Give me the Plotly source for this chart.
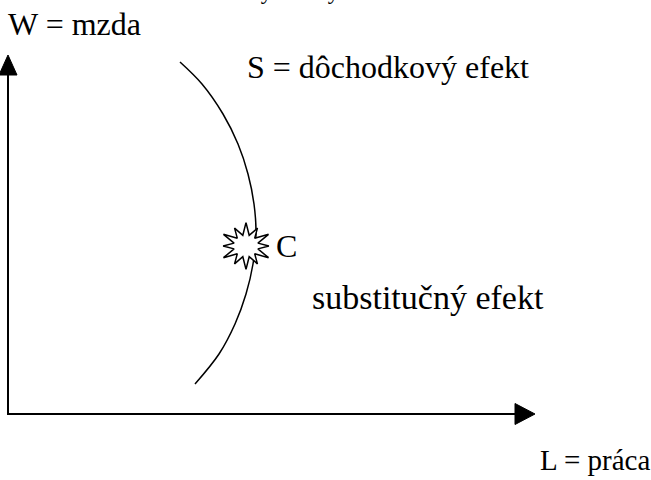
import numpy as np
import plotly.graph_objects as go

# supply-of-labour curve (origin = axis corner, units ~ px)
curve_L = [172, 194, 215, 230, 240, 246, 248, 245, 238, 227, 211, 187]
curve_W = [352, 330, 300, 270, 240, 210, 180, 150, 120, 90, 60, 30]

# point C on the curve and the label texts
point_C = (238, 168)
axis_len_L = 527
axis_len_W = 359

labels = ["W = mzda", "S = dôchodkový efekt", "C", "substitučný efekt", "L = práca"]
label_L = [-2, 237, 266, 302, 530]
label_W = [390, 347, 168, 117, -46]
label_size = [32, 32, 32, 34, 29]

fig = go.Figure()

# axes
fig.add_trace(go.Scatter(x=[0, 0, axis_len_L - 18], y=[axis_len_W - 18, 0, 0],
                         mode="lines", line=dict(color="black", width=2),
                         hoverinfo="skip"))
# arrow heads
fig.add_trace(go.Scatter(x=[-9, 9, 0, -9], y=[axis_len_W - 20, axis_len_W - 20, axis_len_W, axis_len_W - 20],
                         mode="lines", fill="toself", fillcolor="black",
                         line=dict(color="black", width=1), hoverinfo="skip"))
fig.add_trace(go.Scatter(x=[axis_len_L - 20, axis_len_L - 20, axis_len_L, axis_len_L - 20],
                         y=[10.5, -10.5, 0, 10.5],
                         mode="lines", fill="toself", fillcolor="black",
                         line=dict(color="black", width=1), hoverinfo="skip"))

# curve
fig.add_trace(go.Scatter(x=curve_L, y=curve_W, mode="lines",
                         line=dict(color="black", width=1.5, shape="spline", smoothing=1),
                         hoverinfo="skip"))

# explosion marker at C
n_spikes = 12
k = np.arange(2 * n_spikes + 1)
ang = np.linspace(0, 2 * np.pi, 2 * n_spikes + 1) + np.pi / 2
rad = np.where(k % 2 == 0, 26, 14) * np.where(k % 4 == 0, 1.0, 0.88)
fig.add_trace(go.Scatter(x=point_C[0] + rad * np.cos(ang),
                         y=point_C[1] + rad * np.sin(ang) * 0.9,
                         mode="lines", fill="toself", fillcolor="white",
                         line=dict(color="black", width=1.5), hoverinfo="skip"))

for t, lx, ly, fs in zip(labels, label_L, label_W, label_size):
    fig.add_annotation(x=lx, y=ly, text=t, showarrow=False, xanchor="left",
                       yanchor="middle",
                       font=dict(family="Liberation Serif, Times New Roman, serif",
                                 size=fs, color="black"))

# title line cut off by the top edge of the page
fig.add_annotation(x=201, y=408, text="Efekty zmeny", showarrow=False, xanchor="left",
                   yanchor="bottom",
                   font=dict(family="Liberation Serif, Times New Roman, serif",
                             size=23, color="black"))

fig.update_layout(width=651, height=480, margin=dict(l=0, r=0, t=0, b=0),
                  paper_bgcolor="white", plot_bgcolor="white", showlegend=False,
                  xaxis=dict(range=[-8, 643], visible=False, fixedrange=True),
                  yaxis=dict(range=[-66, 414], visible=False, fixedrange=True))

fig.write_html("out.html", config={"displayModeBar": False},
               post_script="document.body.style.margin='0';document.body.style.overflow='hidden';")
